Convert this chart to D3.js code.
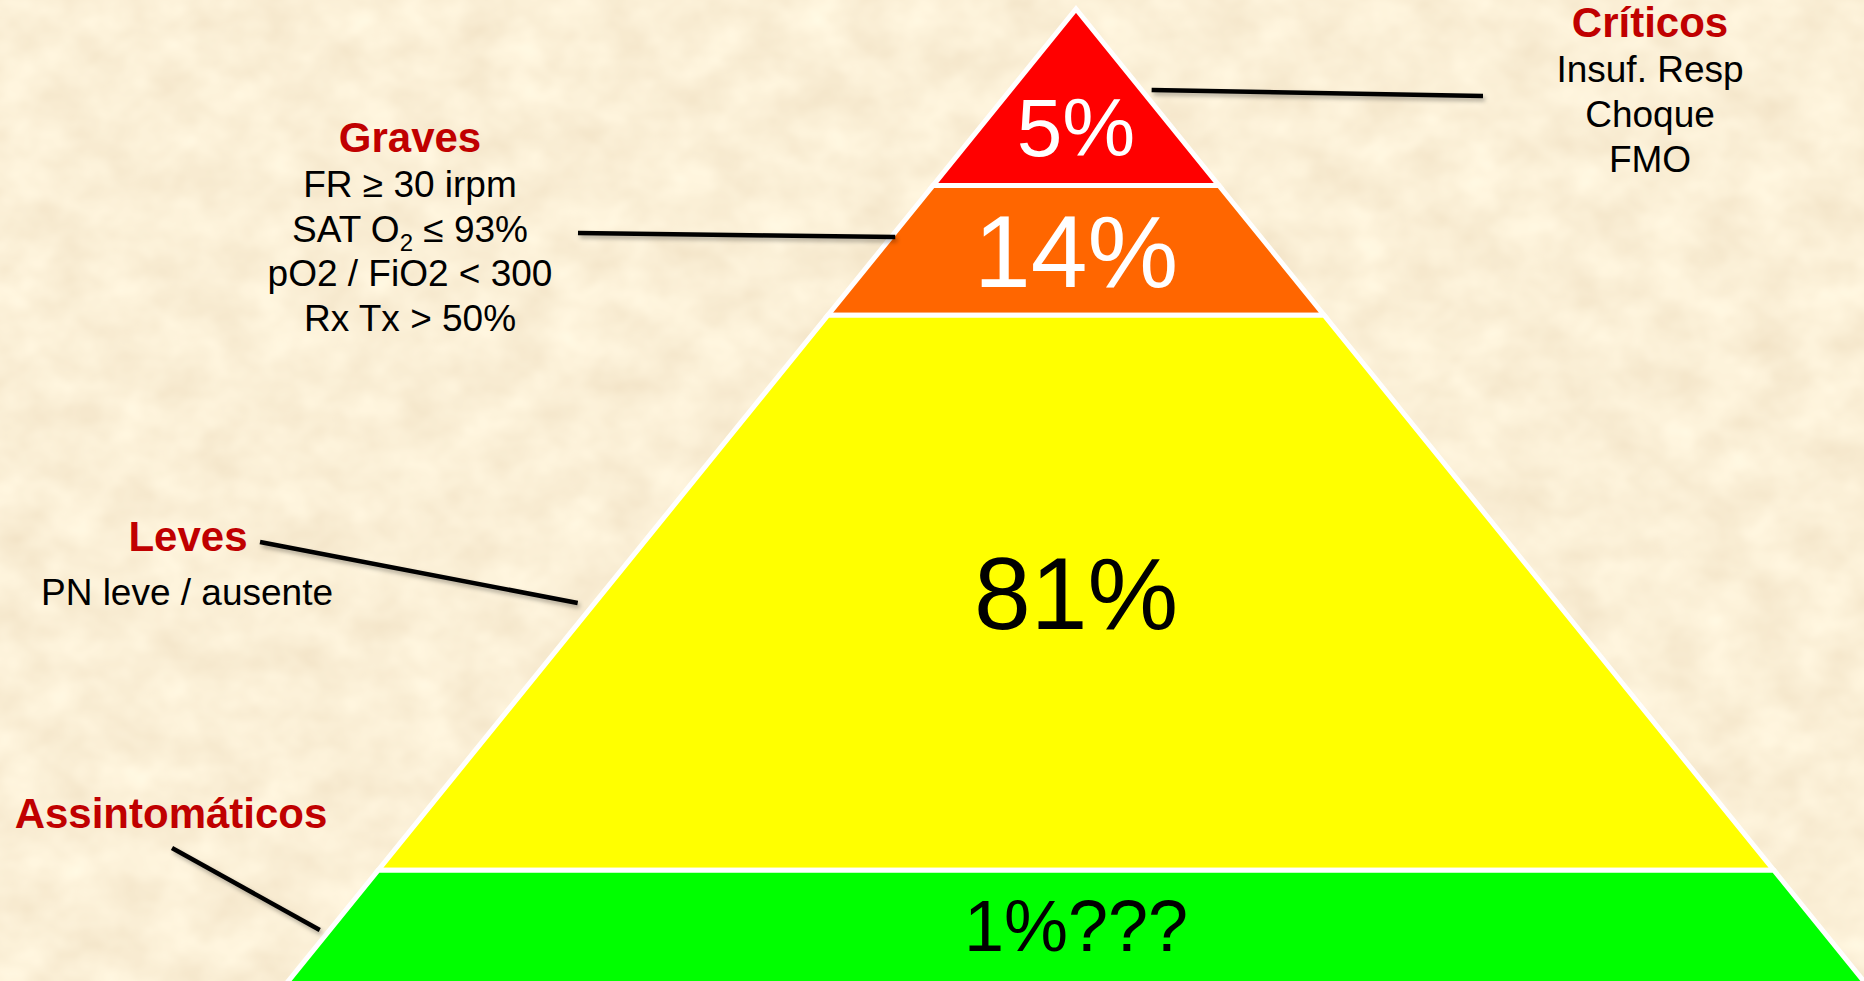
<!DOCTYPE html>
<html lang="pt">
<head>
<meta charset="utf-8">
<title>Espectro clínico</title>
<script src="https://cdn.jsdelivr.net/npm/d3@7/dist/d3.min.js"></script>
<style>
  html, body { margin: 0; padding: 0; background: #faeed5; overflow: hidden; }
  svg { display: block; }
  text { font-family: "Liberation Sans", Arial, Helvetica, sans-serif; }
</style>
</head>
<body>
<script>
// Tiers of the pyramid, top to bottom
const tierNames = ["Críticos", "Graves", "Leves", "Assintomáticos"];
const tierShares = ["5%", "14%", "81%", "1%???"];
// Tier boundaries, as percent of the pyramid height measured from the apex
const tierBounds = [0, 17.8, 30.9, 86.9, 100];

// Descriptions next to the tier names
const criticalNotes = ["Insuf. Resp", "Choque", "FMO"];
const severeNotes = ["FR ≥ 30 irpm", "SAT O{2} ≤ 93%", "pO2 / FiO2 < 300", "Rx Tx > 50%"];
const mildNotes = ["PN leve / ausente"];

// Styling
const bandColors = ["#ff0000", "#ff6600", "#ffff00", "#00ff00"];
const shareColors = ["#ffffff", "#ffffff", "#000000", "#000000"];
const shareSizes = [82, 102, 102, 72];
const titleColor = "#c00000";

const W = 1864, H = 981;
const cx = 1076;

const svg = d3.select("body").append("svg")
  .attr("width", W).attr("height", H)
  .attr("viewBox", `0 0 ${W} ${H}`);

const defs = svg.append("defs");

// Parchment texture
const paper = defs.append("filter").attr("id", "paper")
  .attr("x", 0).attr("y", 0).attr("width", "100%").attr("height", "100%")
  .attr("color-interpolation-filters", "sRGB");
paper.append("feTurbulence")
  .attr("type", "fractalNoise").attr("baseFrequency", "0.02 0.025")
  .attr("numOctaves", 3).attr("seed", 7).attr("result", "noise");
paper.append("feColorMatrix").attr("type", "matrix")
  .attr("values",
    "0.07 0 0 0 0.948 " +
    "0.10 0 0 0 0.888 " +
    "0.13 0 0 0 0.775 " +
    "0 0 0 0 1");

// Soft shadow under the callout lines
const shadow = defs.append("filter").attr("id", "lineShadow")
  .attr("x", "-10%").attr("y", "-50%").attr("width", "120%").attr("height", "300%");
shadow.append("feDropShadow")
  .attr("dx", 2).attr("dy", 3).attr("stdDeviation", 2)
  .attr("flood-color", "#000").attr("flood-opacity", 0.3);

svg.append("rect").attr("width", W).attr("height", H).attr("fill", "#faeed5");
svg.append("rect").attr("width", W).attr("height", H).attr("filter", "url(#paper)");

// Scales: depth from the apex -> y, and depth -> half-width of the pyramid
const yScale = d3.scaleLinear().domain([0, 100]).range([9, 1000]);
const halfWidth = d3.scaleLinear().domain([0, 100]).range([0, 803]);
const edgeX = (side, y) => cx + side * halfWidth(yScale.invert(y));

const bands = tierNames.map((name, i) => ({
  name,
  share: tierShares[i],
  top: tierBounds[i],
  bottom: tierBounds[i + 1],
  i
}));

const bandPoints = d => {
  const yt = yScale(d.top), yb = yScale(d.bottom);
  const wt = halfWidth(d.top), wb = halfWidth(d.bottom);
  const pts = wt === 0
    ? [[cx, yt], [cx + wb, yb], [cx - wb, yb]]
    : [[cx - wt, yt], [cx + wt, yt], [cx + wb, yb], [cx - wb, yb]];
  return pts.map(p => p.join(",")).join(" ");
};

const pyramid = svg.append("g");
pyramid.selectAll("polygon")
  .data(bands)
  .join("polygon")
  .attr("points", bandPoints)
  .attr("fill", d => bandColors[d.i])
  .attr("stroke", "#ffffff")
  .attr("stroke-width", 5)
  .attr("stroke-linejoin", "miter");

// Share labels: centroid for the apex triangle, middle of the visible part otherwise
const labelCenter = d => {
  const yt = yScale(d.top), yb = Math.min(yScale(d.bottom), H);
  return d.top === 0 ? yt + (yb - yt) * 2 / 3 : (yt + yb) / 2;
};

pyramid.selectAll("text")
  .data(bands)
  .join("text")
  .attr("x", cx)
  .attr("y", d => labelCenter(d) + shareSizes[d.i] * 0.358)
  .attr("text-anchor", "middle")
  .attr("font-size", d => shareSizes[d.i])
  .attr("fill", d => shareColors[d.i])
  .text(d => d.share);

// Callout text blocks
function noteLine(sel, str) {
  // "{...}" marks a subscript; the text after it returns to the baseline
  const parts = str.split(/(\{[^}]*\})/).filter(s => s.length);
  let shift = 0;
  parts.forEach(p => {
    if (p.startsWith("{")) {
      sel.append("tspan").attr("font-size", 24).attr("dy", 9).text(p.slice(1, -1));
      shift = -9;
    } else {
      const t = sel.append("tspan").text(p);
      if (shift) { t.attr("dy", shift); shift = 0; }
    }
  });
}

function calloutBlock(x, yTitle, title, notes, gap, yFirst) {
  const g = svg.append("g").attr("text-anchor", "middle");
  g.append("text")
    .attr("x", x).attr("y", yTitle)
    .attr("font-size", 42).attr("font-weight", "bold")
    .attr("fill", titleColor)
    .text(title);
  notes.forEach((n, k) => {
    const t = g.append("text")
      .attr("x", x).attr("y", yFirst + k * gap)
      .attr("font-size", 37).attr("fill", "#000");
    noteLine(t, n);
  });
  return g;
}

calloutBlock(1650, 37, tierNames[0], criticalNotes, 45, 82);
calloutBlock(410, 152, tierNames[1], severeNotes, 44.5, 197);
calloutBlock(188, 551, tierNames[2], [], 0, 0);
svg.append("text").attr("x", 187).attr("y", 605)
  .attr("text-anchor", "middle").attr("font-size", 37).attr("fill", "#000")
  .text(mildNotes[0]);
calloutBlock(171, 828, tierNames[3], [], 0, 0);

// Leader lines between the text blocks and the pyramid
const leaders = [
  [[edgeX(1, 90) + 10, 90], [1483, 96]],
  [[578, 233], [edgeX(-1, 237) + 4, 237]],
  [[260, 542], [edgeX(-1, 603) - 17, 603]],
  [[172, 848], [edgeX(-1, 930) - 10, 930]]
];

svg.append("g")
  .attr("filter", "url(#lineShadow)")
  .selectAll("line")
  .data(leaders)
  .join("line")
  .attr("x1", d => d[0][0]).attr("y1", d => d[0][1])
  .attr("x2", d => d[1][0]).attr("y2", d => d[1][1])
  .attr("stroke", "#000")
  .attr("stroke-width", 4.5);
</script>
</body>
</html>
